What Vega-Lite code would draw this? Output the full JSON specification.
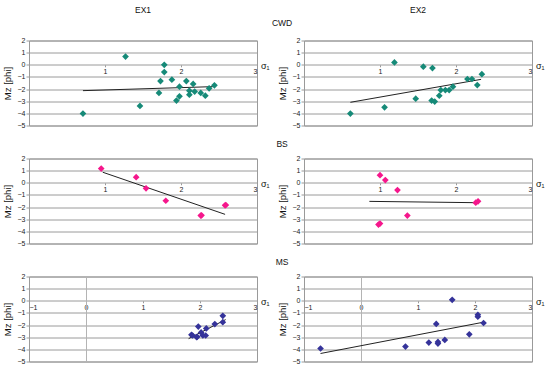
{
  "$schema": "https://vega.github.io/schema/vega-lite/v6.json",
  "background": "white",
  "padding": {"left": 1, "top": 5.5, "right": 0, "bottom": 0},
  "config": {
    "font": "Liberation Sans",
    "view": {"stroke": "#9a9a9a", "strokeWidth": 1},
    "title": {"fontSize": 8.5, "fontWeight": "normal", "color": "#111", "anchor": "middle"},
    "axisY": {"grid": true, "gridColor": "#9a9a9a", "gridWidth": 1, "domain": false, "tickSize": 3, "tickColor": "#9a9a9a", "labelFontSize": 7, "labelColor": "#222", "labelPadding": 1, "titleFontSize": 9.5, "titleFontWeight": "normal", "titleColor": "#111", "titlePadding": 5},
    "axisX": {"offset": -60.714, "domain": false, "grid": false, "tickSize": 2, "tickColor": "#9a9a9a", "labelFontSize": 7, "labelColor": "#222", "labelPadding": 1, "labelFlush": true, "titleFontSize": 9, "titleFontWeight": "normal", "titleColor": "#111", "titleX": 231.5, "titleY": 4, "titleAlign": "left", "titleBaseline": "alphabetic", "titleAngle": 0}
  },
  "data": {"values": [
    {"r":"CWD","e":"EX1","k":"p","x":1.27,"y":0.68},{"r":"CWD","e":"EX1","k":"p","x":1.78,"y":0.0},{"r":"CWD","e":"EX1","k":"p","x":1.78,"y":-0.6},{"r":"CWD","e":"EX1","k":"p","x":1.73,"y":-1.34},{"r":"CWD","e":"EX1","k":"p","x":1.88,"y":-1.23},{"r":"CWD","e":"EX1","k":"p","x":2.07,"y":-1.34},{"r":"CWD","e":"EX1","k":"p","x":2.16,"y":-1.58},{"r":"CWD","e":"EX1","k":"p","x":1.98,"y":-1.8},{"r":"CWD","e":"EX1","k":"p","x":1.71,"y":-2.32},{"r":"CWD","e":"EX1","k":"p","x":2.11,"y":-2.13},{"r":"CWD","e":"EX1","k":"p","x":2.11,"y":-2.46},{"r":"CWD","e":"EX1","k":"p","x":2.18,"y":-2.21},{"r":"CWD","e":"EX1","k":"p","x":2.26,"y":-2.32},{"r":"CWD","e":"EX1","k":"p","x":2.32,"y":-2.54},{"r":"CWD","e":"EX1","k":"p","x":2.37,"y":-1.94},{"r":"CWD","e":"EX1","k":"p","x":2.44,"y":-1.69},{"r":"CWD","e":"EX1","k":"p","x":1.98,"y":-2.6},{"r":"CWD","e":"EX1","k":"p","x":1.94,"y":-2.95},{"r":"CWD","e":"EX1","k":"p","x":1.46,"y":-3.39},{"r":"CWD","e":"EX1","k":"p","x":0.71,"y":-4.02},
    {"r":"CWD","e":"EX1","k":"t","x":0.71,"y":-2.13},{"r":"CWD","e":"EX1","k":"t","x":2.42,"y":-1.8},
    {"r":"CWD","e":"EX2","k":"p","x":1.19,"y":0.19},{"r":"CWD","e":"EX2","k":"p","x":1.57,"y":-0.16},{"r":"CWD","e":"EX2","k":"p","x":1.69,"y":-0.27},{"r":"CWD","e":"EX2","k":"p","x":2.34,"y":-0.77},{"r":"CWD","e":"EX2","k":"p","x":2.15,"y":-1.17},{"r":"CWD","e":"EX2","k":"p","x":2.21,"y":-1.17},{"r":"CWD","e":"EX2","k":"p","x":2.28,"y":-1.67},{"r":"CWD","e":"EX2","k":"p","x":1.96,"y":-1.8},{"r":"CWD","e":"EX2","k":"p","x":1.91,"y":-2.08},{"r":"CWD","e":"EX2","k":"p","x":1.86,"y":-2.08},{"r":"CWD","e":"EX2","k":"p","x":1.8,"y":-2.08},{"r":"CWD","e":"EX2","k":"p","x":1.78,"y":-2.54},{"r":"CWD","e":"EX2","k":"p","x":1.47,"y":-2.79},{"r":"CWD","e":"EX2","k":"p","x":1.68,"y":-2.95},{"r":"CWD","e":"EX2","k":"p","x":1.72,"y":-3.03},{"r":"CWD","e":"EX2","k":"p","x":1.06,"y":-3.5},{"r":"CWD","e":"EX2","k":"p","x":0.61,"y":-4.02},
    {"r":"CWD","e":"EX2","k":"t","x":0.61,"y":-3.09},{"r":"CWD","e":"EX2","k":"t","x":2.33,"y":-1.2},
    {"r":"BS","e":"EX1","k":"p","x":0.95,"y":1.17},{"r":"BS","e":"EX1","k":"p","x":1.41,"y":0.46},{"r":"BS","e":"EX1","k":"p","x":1.54,"y":-0.46},{"r":"BS","e":"EX1","k":"p","x":1.8,"y":-1.48},{"r":"BS","e":"EX1","k":"p","x":2.26,"y":-2.7},{"r":"BS","e":"EX1","k":"p","x":2.27,"y":-2.68},{"r":"BS","e":"EX1","k":"p","x":2.58,"y":-1.86},{"r":"BS","e":"EX1","k":"p","x":2.59,"y":-1.83},
    {"r":"BS","e":"EX1","k":"t","x":0.97,"y":0.87},{"r":"BS","e":"EX1","k":"t","x":2.58,"y":-2.6},
    {"r":"BS","e":"EX2","k":"p","x":1.0,"y":0.63},{"r":"BS","e":"EX2","k":"p","x":1.07,"y":0.22},{"r":"BS","e":"EX2","k":"p","x":1.23,"y":-0.6},{"r":"BS","e":"EX2","k":"p","x":1.36,"y":-2.7},{"r":"BS","e":"EX2","k":"p","x":0.98,"y":-3.44},{"r":"BS","e":"EX2","k":"p","x":1.0,"y":-3.36},{"r":"BS","e":"EX2","k":"p","x":2.26,"y":-1.64},{"r":"BS","e":"EX2","k":"p","x":2.29,"y":-1.53},
    {"r":"BS","e":"EX2","k":"t","x":0.86,"y":-1.53},{"r":"BS","e":"EX2","k":"t","x":2.27,"y":-1.64},
    {"r":"MS","e":"EX1","k":"p","x":2.4,"y":-1.24},{"r":"MS","e":"EX1","k":"p","x":2.4,"y":-1.76},{"r":"MS","e":"EX1","k":"p","x":2.26,"y":-1.92},{"r":"MS","e":"EX1","k":"p","x":2.11,"y":-2.28},{"r":"MS","e":"EX1","k":"p","x":1.97,"y":-2.12},{"r":"MS","e":"EX1","k":"p","x":2.02,"y":-2.61},{"r":"MS","e":"EX1","k":"p","x":2.05,"y":-2.86},{"r":"MS","e":"EX1","k":"p","x":2.1,"y":-2.86},{"r":"MS","e":"EX1","k":"p","x":1.94,"y":-2.99},{"r":"MS","e":"EX1","k":"p","x":1.85,"y":-2.8},{"r":"MS","e":"EX1","k":"p","x":1.87,"y":-2.86},{"r":"MS","e":"EX1","k":"p","x":1.95,"y":-2.97},
    {"r":"MS","e":"EX1","k":"t","x":1.8,"y":-3.12},{"r":"MS","e":"EX1","k":"t","x":2.45,"y":-1.55},
    {"r":"MS","e":"EX2","k":"p","x":1.6,"y":0.08},{"r":"MS","e":"EX2","k":"p","x":2.05,"y":-1.15},{"r":"MS","e":"EX2","k":"p","x":2.05,"y":-1.31},{"r":"MS","e":"EX2","k":"p","x":2.15,"y":-1.83},{"r":"MS","e":"EX2","k":"p","x":1.32,"y":-1.91},{"r":"MS","e":"EX2","k":"p","x":1.9,"y":-2.76},{"r":"MS","e":"EX2","k":"p","x":1.47,"y":-3.22},{"r":"MS","e":"EX2","k":"p","x":1.19,"y":-3.44},{"r":"MS","e":"EX2","k":"p","x":1.35,"y":-3.39},{"r":"MS","e":"EX2","k":"p","x":1.35,"y":-3.52},{"r":"MS","e":"EX2","k":"p","x":0.78,"y":-3.77},{"r":"MS","e":"EX2","k":"p","x":-0.71,"y":-3.93},
    {"r":"MS","e":"EX2","k":"t","x":-0.71,"y":-4.34},{"r":"MS","e":"EX2","k":"t","x":2.13,"y":-1.78}
  ]},
  "spacing": 10,
  "vconcat": [
    {
      "title": {"text": "CWD", "dy": 26, "dx": 9},
      "spacing": 6,
      "hconcat": [
        {
          "width": 228, "height": 85,
          "title": {"text": "EX1", "offset": 22},
          "encoding": {
            "x": {"field": "x", "type": "quantitative", "scale": {"domain": [0, 3], "nice": false, "zero": false}, "axis": {"values": [1, 2, 3], "title": "σ₁"}},
            "y": {"field": "y", "type": "quantitative", "scale": {"domain": [-5, 2], "nice": false}, "axis": {"values": [-5, -4, -3, -2, -1, 0, 1, 2], "title": "Mz [phi]"}}
          },
          "layer": [
            {"transform": [{"filter": "datum.r === 'CWD' && datum.e === 'EX1' && datum.k === 't'"}], "mark": {"type": "line", "color": "#222", "strokeWidth": 1}},
            {"transform": [{"filter": "datum.r === 'CWD' && datum.e === 'EX1' && datum.k === 'p'"}], "mark": {"type": "point", "shape": "diamond", "filled": true, "size": 45, "opacity": 1, "color": "#168a78"}}
          ]
        },
        {
          "width": 228, "height": 85,
          "title": {"text": "EX2", "offset": 22},
          "encoding": {
            "x": {"field": "x", "type": "quantitative", "scale": {"domain": [0, 3], "nice": false, "zero": false}, "axis": {"values": [1, 2, 3], "title": "σ₁"}},
            "y": {"field": "y", "type": "quantitative", "scale": {"domain": [-5, 2], "nice": false}, "axis": {"values": [-5, -4, -3, -2, -1, 0, 1, 2], "title": "Mz [phi]"}}
          },
          "layer": [
            {"transform": [{"filter": "datum.r === 'CWD' && datum.e === 'EX2' && datum.k === 't'"}], "mark": {"type": "line", "color": "#222", "strokeWidth": 1}},
            {"transform": [{"filter": "datum.r === 'CWD' && datum.e === 'EX2' && datum.k === 'p'"}], "mark": {"type": "point", "shape": "diamond", "filled": true, "size": 45, "opacity": 1, "color": "#168a78"}}
          ]
        }
      ]
    },
    {
      "title": {"text": "BS", "offset": 6, "dx": 9},
      "spacing": 6,
      "hconcat": [
        {
          "width": 228, "height": 85,
          "encoding": {
            "x": {"field": "x", "type": "quantitative", "scale": {"domain": [0, 3], "nice": false, "zero": false}, "axis": {"values": [1, 2, 3], "title": "σ₁"}},
            "y": {"field": "y", "type": "quantitative", "scale": {"domain": [-5, 2], "nice": false}, "axis": {"values": [-5, -4, -3, -2, -1, 0, 1, 2], "title": "Mz [phi]"}}
          },
          "layer": [
            {"transform": [{"filter": "datum.r === 'BS' && datum.e === 'EX1' && datum.k === 't'"}], "mark": {"type": "line", "color": "#222", "strokeWidth": 1}},
            {"transform": [{"filter": "datum.r === 'BS' && datum.e === 'EX1' && datum.k === 'p'"}], "mark": {"type": "point", "shape": "diamond", "filled": true, "size": 45, "opacity": 1, "color": "#f5178c"}}
          ]
        },
        {
          "width": 228, "height": 85,
          "encoding": {
            "x": {"field": "x", "type": "quantitative", "scale": {"domain": [0, 3], "nice": false, "zero": false}, "axis": {"values": [1, 2, 3], "title": "σ₁"}},
            "y": {"field": "y", "type": "quantitative", "scale": {"domain": [-5, 2], "nice": false}, "axis": {"values": [-5, -4, -3, -2, -1, 0, 1, 2], "title": "Mz [phi]"}}
          },
          "layer": [
            {"transform": [{"filter": "datum.r === 'BS' && datum.e === 'EX2' && datum.k === 't'"}], "mark": {"type": "line", "color": "#222", "strokeWidth": 1}},
            {"transform": [{"filter": "datum.r === 'BS' && datum.e === 'EX2' && datum.k === 'p'"}], "mark": {"type": "point", "shape": "diamond", "filled": true, "size": 45, "opacity": 1, "color": "#f5178c"}}
          ]
        }
      ]
    },
    {
      "title": {"text": "MS", "offset": 6, "dx": 9},
      "spacing": 6,
      "hconcat": [
        {
          "width": 228, "height": 85,
          "encoding": {
            "x": {"field": "x", "type": "quantitative", "scale": {"domain": [-1, 3], "nice": false, "zero": false}, "axis": {"values": [-1, 0, 1, 2, 3], "title": "σ₁"}},
            "y": {"field": "y", "type": "quantitative", "scale": {"domain": [-5, 2], "nice": false}, "axis": {"values": [-5, -4, -3, -2, -1, 0, 1, 2], "title": "Mz [phi]"}}
          },
          "layer": [
            {"mark": {"type": "rule", "color": "#b4b4b4", "strokeWidth": 1, "xOffset": 0.5}, "encoding": {"x": {"datum": 0}, "y": {"datum": -5}, "y2": {"datum": 2}}},
            {"transform": [{"filter": "datum.r === 'MS' && datum.e === 'EX1' && datum.k === 't'"}], "mark": {"type": "line", "color": "#222", "strokeWidth": 1}},
            {"transform": [{"filter": "datum.r === 'MS' && datum.e === 'EX1' && datum.k === 'p'"}], "mark": {"type": "point", "shape": "diamond", "filled": true, "size": 45, "opacity": 1, "color": "#35339a"}}
          ]
        },
        {
          "width": 228, "height": 85,
          "encoding": {
            "x": {"field": "x", "type": "quantitative", "scale": {"domain": [-1, 3], "nice": false, "zero": false}, "axis": {"values": [-1, 0, 1, 2, 3], "title": "σ₁"}},
            "y": {"field": "y", "type": "quantitative", "scale": {"domain": [-5, 2], "nice": false}, "axis": {"values": [-5, -4, -3, -2, -1, 0, 1, 2], "title": "Mz [phi]"}}
          },
          "layer": [
            {"mark": {"type": "rule", "color": "#b4b4b4", "strokeWidth": 1, "xOffset": 0.5}, "encoding": {"x": {"datum": 0}, "y": {"datum": -5}, "y2": {"datum": 2}}},
            {"transform": [{"filter": "datum.r === 'MS' && datum.e === 'EX2' && datum.k === 't'"}], "mark": {"type": "line", "color": "#222", "strokeWidth": 1}},
            {"transform": [{"filter": "datum.r === 'MS' && datum.e === 'EX2' && datum.k === 'p'"}], "mark": {"type": "point", "shape": "diamond", "filled": true, "size": 45, "opacity": 1, "color": "#35339a"}}
          ]
        }
      ]
    }
  ]
}
